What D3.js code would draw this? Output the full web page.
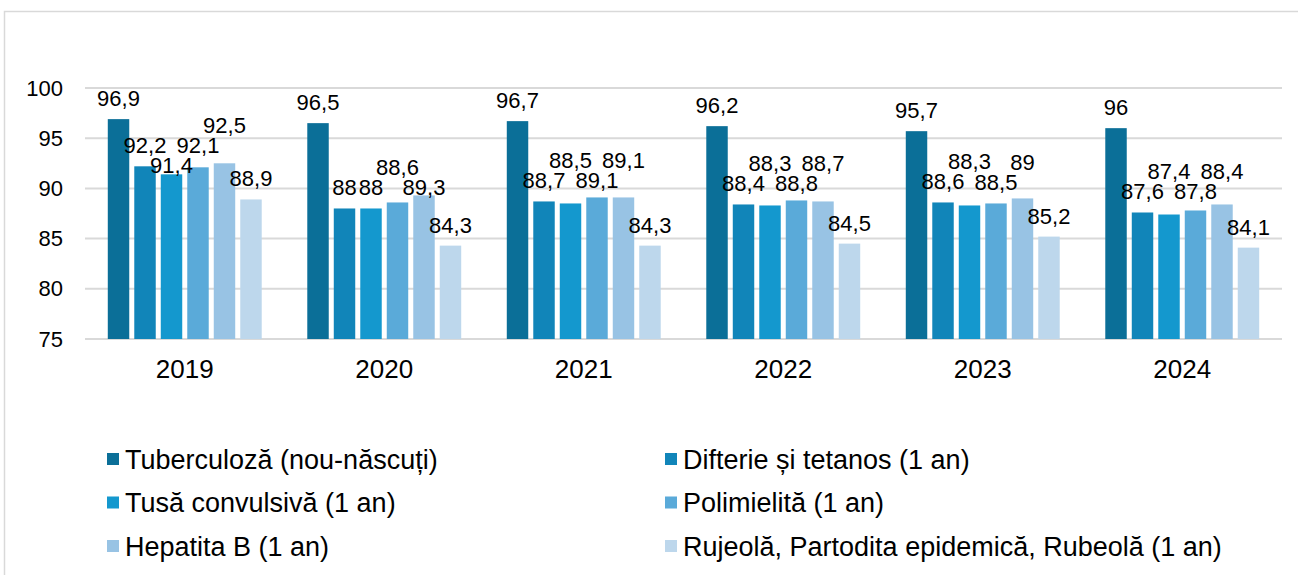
<!doctype html>
<html lang="ro">
<head>
<meta charset="utf-8">
<title>Acoperire vaccinala</title>
<script src="https://cdn.jsdelivr.net/npm/d3@7"></script>
<style>
  body { margin: 0; background: #fff; }
  svg { font-family: "Liberation Sans", Arial, sans-serif; }
</style>
</head>
<body>
<script>
// data
var years = ["2019", "2020", "2021", "2022", "2023", "2024"];
var seriesNames = [
  "Tuberculoză (nou-născuți)",
  "Difterie și tetanos (1 an)",
  "Tusă convulsivă (1 an)",
  "Polimielită (1 an)",
  "Hepatita B (1 an)",
  "Rujeolă, Partodita epidemică, Rubeolă (1 an)"
];
var tuberculoza = [96.9, 96.5, 96.7, 96.2, 95.7, 96];
var difterie    = [92.2, 88, 88.7, 88.4, 88.6, 87.6];
var tusa        = [91.4, 88, 88.5, 88.3, 88.3, 87.4];
var polio       = [92.1, 88.6, 89.1, 88.8, 88.5, 87.8];
var hepatitaB   = [92.5, 89.3, 89.1, 88.7, 89, 88.4];
var rujeola     = [88.9, 84.3, 84.3, 84.5, 85.2, 84.1];
var yTicks = [75, 80, 85, 90, 95, 100];

var colors = ["#0b6f98", "#1185b9", "#1498ce", "#5aaad9", "#98c3e4", "#bdd7ec"];
var allSeries = [tuberculoza, difterie, tusa, polio, hepatitaB, rujeola];

var width = 1298, height = 575;
var svg = d3.select("body").append("svg")
    .attr("width", width)
    .attr("height", height);

// chart frame
svg.append("rect")
    .attr("x", 4.5).attr("y", 11.5)
    .attr("width", 1310).attr("height", 600)
    .attr("fill", "none")
    .attr("stroke", "#d9d9d9")
    .attr("stroke-width", 1.5);

var x0 = d3.scaleBand().domain(years).range([85, 1282]);
var x1 = d3.scaleBand().domain(d3.range(6))
    .range([0, x0.bandwidth()])
    .paddingInner(0.19)
    .paddingOuter(0.86);
var y = d3.scaleLinear().domain([75, 100]).range([339, 88]);

// gridlines
svg.append("g").selectAll("line")
    .data(yTicks)
    .enter().append("line")
    .attr("x1", 85).attr("x2", 1282)
    .attr("y1", function(d) { return y(d); })
    .attr("y2", function(d) { return y(d); })
    .attr("stroke", "#d9d9d9")
    .attr("stroke-width", 2);

// y axis labels
var yAxis = d3.axisLeft(y).tickValues(yTicks).tickSize(0).tickPadding(0);
svg.append("g")
    .attr("transform", "translate(63,0)")
    .call(yAxis)
    .call(function(g) { g.select(".domain").remove(); })
    .selectAll("text")
    .attr("font-size", 22)
    .attr("font-family", "Liberation Sans, Arial, sans-serif")
    .attr("fill", "#000");

// x axis labels
var xAxis = d3.axisBottom(x0).tickSize(0).tickPadding(0);
svg.append("g")
    .attr("transform", "translate(0,359.5)")
    .call(xAxis)
    .call(function(g) { g.select(".domain").remove(); })
    .selectAll("text")
    .attr("font-size", 26)
    .attr("font-family", "Liberation Sans, Arial, sans-serif")
    .attr("fill", "#000");

// bars
var rows = [];
years.forEach(function(yr, i) {
  allSeries.forEach(function(s, j) {
    rows.push({ year: yr, series: j, value: s[i] });
  });
});

svg.append("g").selectAll("rect")
    .data(rows)
    .enter().append("rect")
    .attr("x", function(d) { return x0(d.year) + x1(d.series); })
    .attr("y", function(d) { return y(d.value); })
    .attr("width", x1.bandwidth())
    .attr("height", function(d) { return y(75) - y(d.value); })
    .attr("fill", function(d) { return colors[d.series]; });

// data labels: above the bar, nudged down or up when they collide
var fmt = function(v) { return String(v).replace(".", ","); };
var labelG = svg.append("g");
var fs = 22, asc = 16, desc = 3;

years.forEach(function(yr) {
  var placed = [];
  rows.filter(function(d) { return d.year === yr; }).forEach(function(d) {
    var cx = x0(d.year) + x1(d.series) + x1.bandwidth() / 2;
    var top = y(d.value);
    var t = labelG.append("text")
        .attr("font-size", fs)
        .attr("text-anchor", "middle")
        .attr("fill", "#000")
        .text(fmt(d.value));
    var w = t.node().getComputedTextLength();
    var base = top - 13, triedDown = false;
    for (var k = 0; k < 10; k++) {
      var hit = placed.find(function(p) {
        return cx - w / 2 < p.r && cx + w / 2 > p.l && base - asc < p.b && base + desc > p.t;
      });
      if (!hit) break;
      var down = hit.b + 1 + asc;
      if (!triedDown && down <= top + 2) {
        base = down;
      } else {
        base = hit.t - 1 - desc;
      }
      triedDown = true;
    }
    t.attr("x", cx).attr("y", base);
    placed.push({ l: cx - w / 2, r: cx + w / 2, t: base - asc, b: base + desc });
  });
});

// legend
var legend = svg.append("g").selectAll("g")
    .data(seriesNames)
    .enter().append("g")
    .attr("transform", function(d, i) {
      var col = i % 2, row = Math.floor(i / 2);
      return "translate(" + (col === 0 ? 107 : 665) + "," + (459 + row * 43.5) + ")";
    });

legend.append("rect")
    .attr("x", 0).attr("y", -6)
    .attr("width", 12).attr("height", 12)
    .attr("fill", function(d, i) { return colors[i]; });

legend.append("text")
    .attr("x", 18)
    .attr("y", 9.5)
    .attr("font-size", 27)
    .attr("fill", "#000")
    .text(function(d) { return d; });
</script>
</body>
</html>
